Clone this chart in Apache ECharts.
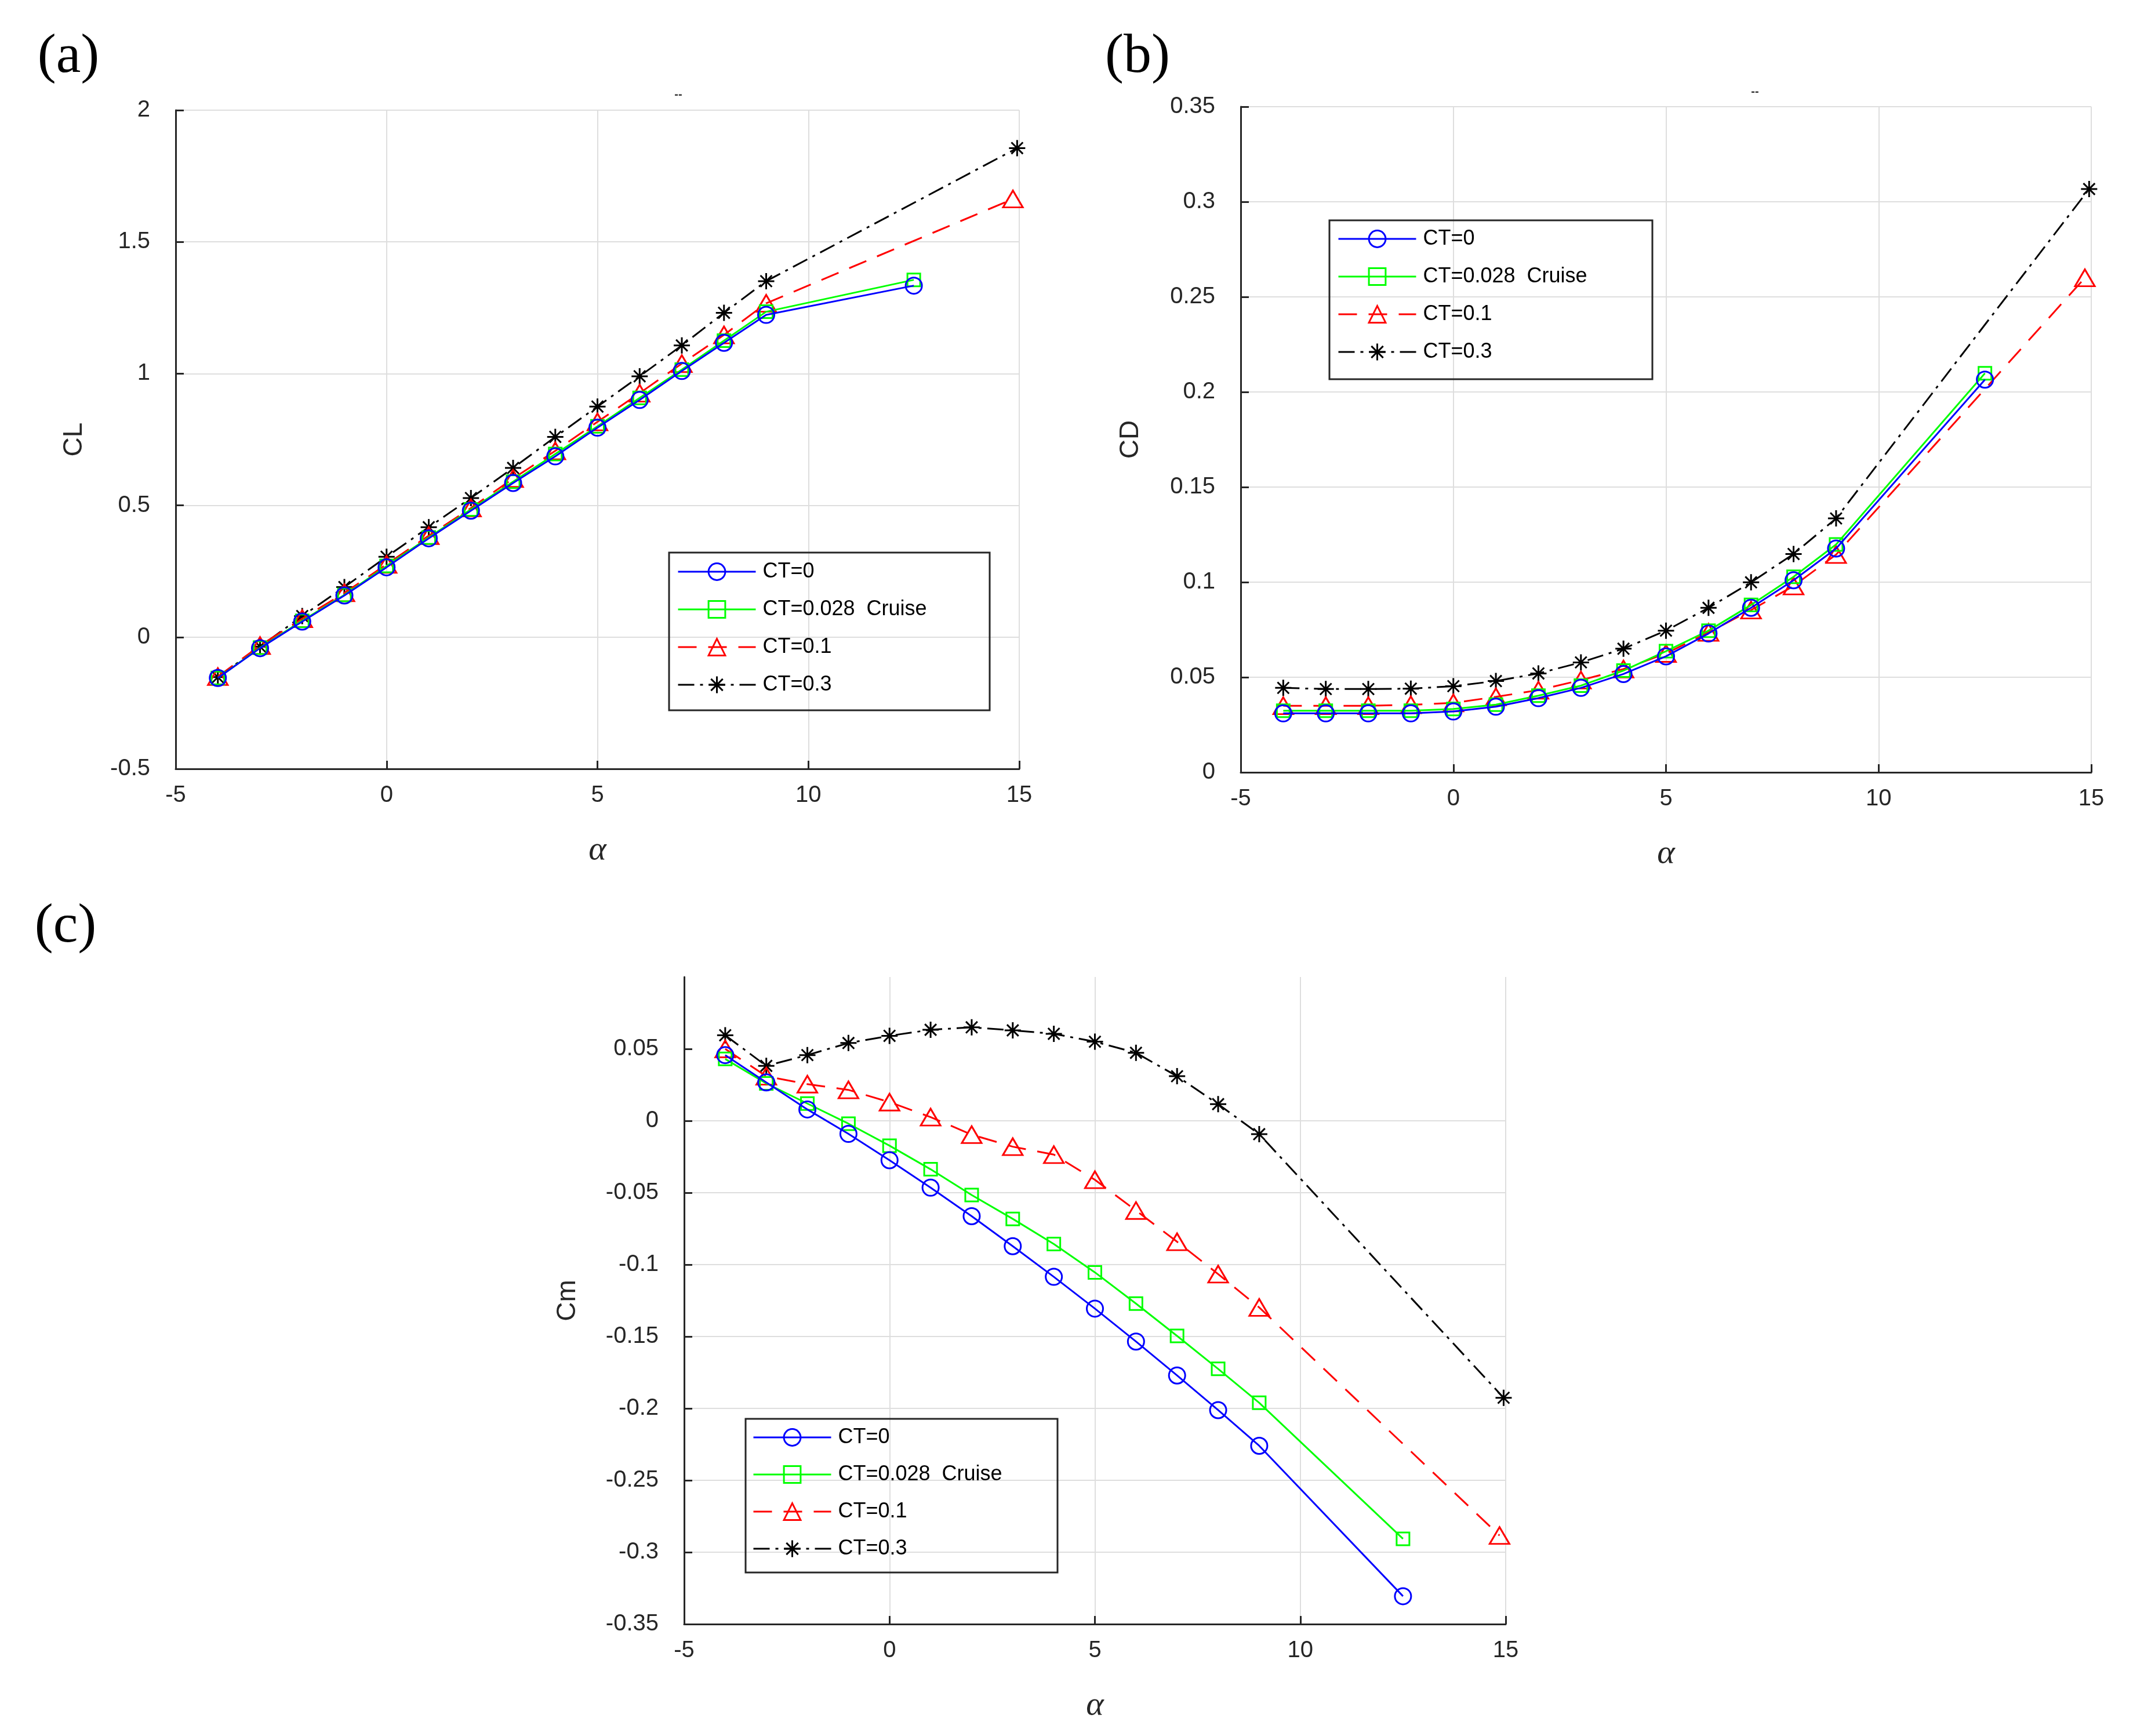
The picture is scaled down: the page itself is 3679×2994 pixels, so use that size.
<!DOCTYPE html>
<html>
<head>
<meta charset="utf-8">
<script src="https://cdn.jsdelivr.net/npm/echarts@6/dist/echarts.min.js"></script>
<style>
html,body{margin:0;padding:0;background:#fff;}
#chart{width:3679px;height:2994px;}
</style>
</head>
<body>
<div id="chart"></div>
<script>
// ---------- data ----------
const seriesNames = ['CT=0', 'CT=0.028  Cruise', 'CT=0.1', 'CT=0.3'];
const alphaCT0 = [-4,-3,-2,-1,0,1,2,3,4,5,6,7,8,9,12.5];
const alphaCT028 = [-4,-3,-2,-1,0,1,2,3,4,5,6,7,8,9,12.5];
const alphaCT01 = [-4,-3,-2,-1,0,1,2,3,4,5,6,7,8,9,14.85];
const alphaCT03 = [-4,-3,-2,-1,0,1,2,3,4,5,6,7,8,9,14.95];

const xTicks = [-5, 0, 5, 10, 15];
const clTicks = [-0.5, 0, 0.5, 1, 1.5, 2];
const cdTicks = [0, 0.05, 0.1, 0.15, 0.2, 0.25, 0.3, 0.35];
const cmTicks = [-0.35, -0.3, -0.25, -0.2, -0.15, -0.1, -0.05, 0, 0.05];

const CL_CT0   = [-0.155,-0.042,0.059,0.158,0.265,0.375,0.480,0.585,0.686,0.795,0.900,1.010,1.117,1.223,1.334];
const CL_CT028 = [-0.155,-0.040,0.062,0.160,0.270,0.378,0.485,0.590,0.695,0.800,0.908,1.015,1.125,1.235,1.356];
const CL_CT01  = [-0.150,-0.032,0.070,0.168,0.276,0.385,0.490,0.602,0.707,0.817,0.926,1.038,1.147,1.267,1.663];
const CL_CT03  = [-0.152,-0.036,0.080,0.190,0.305,0.417,0.528,0.642,0.760,0.875,0.990,1.107,1.231,1.351,1.856];

const CD_CT0   = [0.031,0.031,0.031,0.031,0.032,0.0345,0.039,0.0444,0.0517,0.061,0.073,0.0865,0.101,0.1177,0.2065];
const CD_CT028 = [0.0324,0.0324,0.0324,0.0324,0.0333,0.0356,0.0403,0.0456,0.0535,0.0637,0.0745,0.088,0.1028,0.1198,0.2098];
const CD_CT01  = [0.035,0.035,0.035,0.0355,0.0365,0.0397,0.0432,0.0485,0.0543,0.0625,0.0736,0.0853,0.098,0.1145,0.260];
const CD_CT03  = [0.0444,0.0438,0.0438,0.044,0.0453,0.048,0.052,0.0578,0.065,0.0745,0.0865,0.0999,0.1148,0.1335,0.3067];

const CM_CT0   = [0.0457,0.0267,0.0079,-0.0091,-0.0274,-0.0465,-0.0663,-0.0872,-0.1085,-0.1306,-0.1535,-0.1771,-0.2012,-0.226,-0.3306];
const CM_CT028 = [0.043,0.026,0.012,-0.002,-0.0173,-0.0337,-0.0516,-0.0682,-0.0857,-0.1054,-0.1271,-0.1496,-0.1725,-0.1961,-0.2907];
const CM_CT01  = [0.050,0.031,0.0255,0.0215,0.013,0.0026,-0.0096,-0.018,-0.0235,-0.041,-0.0624,-0.0841,-0.1066,-0.1298,-0.2884];
const CM_CT03  = [0.0595,0.0382,0.0457,0.0541,0.0591,0.0633,0.065,0.0629,0.0605,0.055,0.0473,0.031,0.0116,-0.0093,-0.1926];

// ---------- styling ----------
const STAR = 'path://M10,0 L10,20 M0,10 L20,10 M2.93,2.93 L17.07,17.07 M2.93,17.07 L17.07,2.93';
const styles = [
  {color:'#0000ff', symbol:'circle', size:28, type:'solid'},
  {color:'#00ff00', symbol:'rect', size:22, type:'solid'},
  {color:'#ff0000', symbol:'triangle', size:[34,29], type:[32,20]},
  {color:'#000000', symbol:STAR, size:28, type:[28,10,5,10]}
];
const axisColor = '#262626';
const gridColor = '#dedede';
const sans = "'Liberation Sans', Arial, sans-serif";
const serif = "'Liberation Serif', 'Times New Roman', serif";

function pairs(xs, ys){ return xs.map((x,i)=>[x, ys[i]]); }

function makeSeries(idx, gridIdx, xs, ys){
  const s = styles[idx];
  return {
    type:'line', name: seriesNames[idx], xAxisIndex:gridIdx, yAxisIndex:gridIdx,
    data: pairs(xs, ys), symbol:s.symbol, symbolSize:s.size, symbolKeepAspect:true,
    showAllSymbol:true, clip:false, z: 10-idx,
    lineStyle:{color:s.color, width:3, type:s.type},
    itemStyle:{color:'rgba(0,0,0,0)', borderColor:s.color, borderWidth:3},
    emphasis:{disabled:true}
  };
}

function xAxisDef(gridIndex){
  return {
    type:'value', gridIndex, min:-5, max:15, interval:5,
    name:'α', nameLocation:'middle', nameGap:112,
    nameTextStyle:{fontFamily:serif, fontStyle:'italic', fontSize:58, color:axisColor},
    axisLine:{show:true, onZero:false, lineStyle:{color:axisColor, width:3}},
    axisTick:{show:true, inside:true, length:14, lineStyle:{color:axisColor, width:3}},
    axisLabel:{fontFamily:sans, fontSize:40, color:axisColor, margin:26},
    splitLine:{show:true, lineStyle:{color:gridColor, width:2}}
  };
}
function yAxisDef(gridIndex, name, min, max, interval, gap, extra){
  const a = {
    type:'value', gridIndex, min, max, interval,
    name, nameLocation:'middle', nameGap:gap, nameRotate:90,
    nameTextStyle:{fontFamily:sans, fontSize:46, color:axisColor},
    axisLine:{show:true, onZero:false, lineStyle:{color:axisColor, width:3}},
    axisTick:{show:true, inside:true, length:14, lineStyle:{color:axisColor, width:3}},
    axisLabel:{fontFamily:sans, fontSize:40, color:axisColor, margin:44},
    splitLine:{show:true, lineStyle:{color:gridColor, width:2}}
  };
  if (extra) extra(a);
  return a;
}

function legendDef(left, top, gap){
  return {
    left, top, orient:'vertical', itemWidth:134, itemHeight:36, itemGap:gap,
    padding:0, selectedMode:false, data:seriesNames,
    lineStyle:{width:3},
    itemStyle:{borderWidth:3},
    textStyle:{fontFamily:sans, fontSize:36, color:'#000', padding:[0,0,0,7]}
  };
}

const grids = [
  {left:303, top:190, width:1455, height:1136},
  {left:2140, top:184, width:1467, height:1148},
  {left:1180, top:1685, width:1417, height:1116}
];

const option = {
  backgroundColor:'#ffffff',
  animation:false,
  grid: grids,
  xAxis: [xAxisDef(0), xAxisDef(1), xAxisDef(2)],
  yAxis: [
    yAxisDef(0, 'CL', -0.5, 2, 0.5, 152),
    yAxisDef(1, 'CD', 0, 0.35, 0.05, 167),
    yAxisDef(2, 'Cm', -0.35, 0.1, 0.05, 178, a => {
      a.axisLabel.showMaxLabel = false;
      a.splitLine.showMaxLine = false;
      a.axisTick.customValues = cmTicks;
    })
  ],
  legend: [legendDef(1168, 968, 29), legendDef(2307, 394, 29), legendDef(1298, 2461, 28)],
  graphic: [
    {type:'rect', shape:{x:1154, y:953, width:553, height:272}, style:{fill:'none', stroke:axisColor, lineWidth:3}, z:1},
    {type:'rect', shape:{x:2293, y:380, width:557, height:274}, style:{fill:'none', stroke:axisColor, lineWidth:3}, z:1},
    {type:'rect', shape:{x:1286, y:2447, width:538, height:265}, style:{fill:'none', stroke:axisColor, lineWidth:3}, z:1},
    {type:'text', x:118, y:99, style:{text:'(a)', font:'96px '+serif, fill:'#000', textAlign:'center', textVerticalAlign:'middle'}},
    {type:'text', x:1962, y:99, style:{text:'(b)', font:'96px '+serif, fill:'#000', textAlign:'center', textVerticalAlign:'middle'}},
    {type:'text', x:113, y:1599, style:{text:'(c)', font:'96px '+serif, fill:'#000', textAlign:'center', textVerticalAlign:'middle'}},
    {type:'text', x:1170, y:163, style:{text:'--', font:'bold 20px '+sans, fill:'#333', textAlign:'center', textVerticalAlign:'middle'}},
    {type:'text', x:3027, y:158, style:{text:'--', font:'bold 20px '+sans, fill:'#333', textAlign:'center', textVerticalAlign:'middle'}}
  ],
  series: [
    makeSeries(0,0,alphaCT0,CL_CT0), makeSeries(1,0,alphaCT028,CL_CT028),
    makeSeries(2,0,alphaCT01,CL_CT01), makeSeries(3,0,alphaCT03,CL_CT03),
    makeSeries(0,1,alphaCT0,CD_CT0), makeSeries(1,1,alphaCT028,CD_CT028),
    makeSeries(2,1,alphaCT01,CD_CT01), makeSeries(3,1,alphaCT03,CD_CT03),
    makeSeries(0,2,alphaCT0,CM_CT0), makeSeries(1,2,alphaCT028,CM_CT028),
    makeSeries(2,2,alphaCT01,CM_CT01), makeSeries(3,2,alphaCT03,CM_CT03)
  ]
};

const chart = echarts.init(document.getElementById('chart'), null, {renderer:'canvas'});
chart.setOption(option);
</script>
</body>
</html>
